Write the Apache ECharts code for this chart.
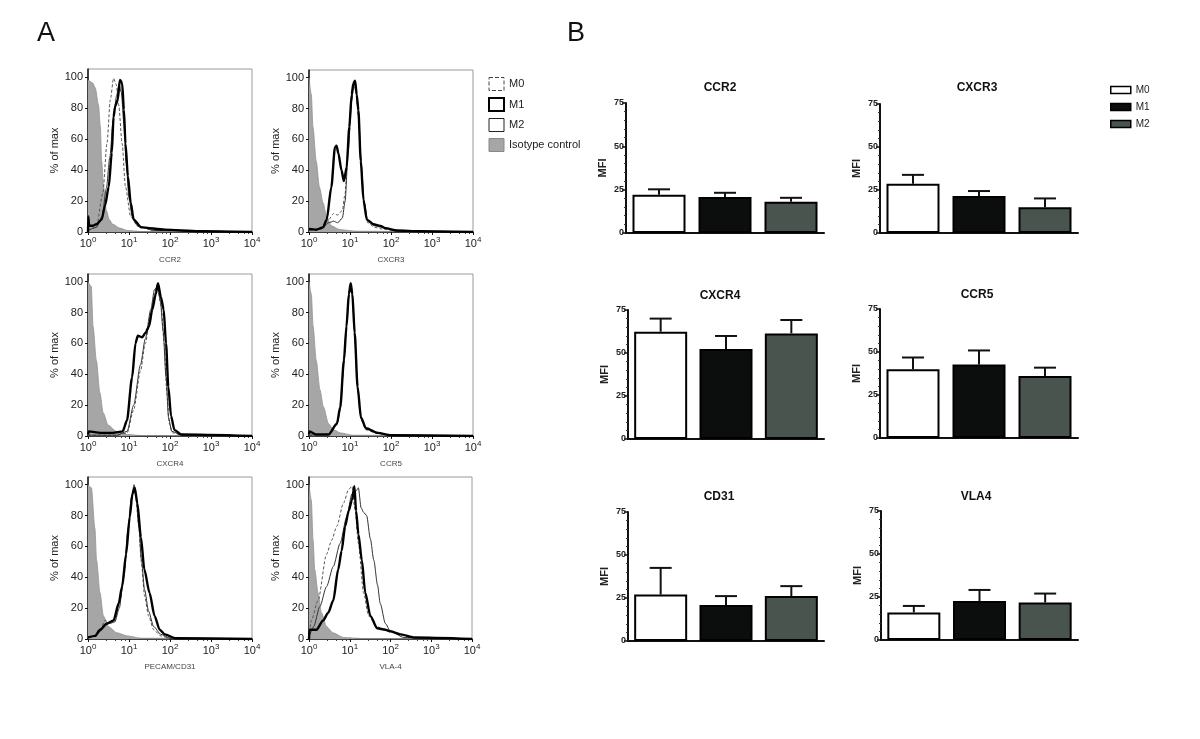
<!DOCTYPE html>
<html><head><meta charset="utf-8">
<script src="https://cdn.jsdelivr.net/npm/echarts@6/dist/echarts.min.js"></script>
<style>html,body{margin:0;padding:0;background:#fff}#c{width:1200px;height:739px}</style>
</head><body><div id="c"></div>
<script>
// ---------- Panel A: flow cytometry histograms ([fluorescence, % of max]) ----------
const histLabels = ['CCR2', 'CXCR3', 'CXCR4', 'CCR5', 'PECAM/CD31', 'VLA-4'];
const histSeriesNames = ['Isotype control', 'M0', 'M2', 'M1'];

const iso_CCR2 = [[1,98],[1.3,96],[1.5,93],[1.8,82],[2,68],[2.15,46],[2.4,29],[2.8,14],[3.3,8],[4,5],[6,2.5],[9,1],[20,0.3],[10000,0]];
const m0_CCR2  = [[1,1],[1.6,3],[2.3,25],[2.9,57],[3.5,85],[4.2,99],[4.9,95],[5.6,82],[6.8,57],[8.2,29],[11,10],[16,4],[40,1],[10000,0]];
const m1_CCR2  = [[1,0],[1.02,10],[1.06,4],[1.3,4],[1.6,5],[2.15,8],[2.6,17],[3.2,29],[3.8,51],[4.2,74],[4.6,81],[5.3,85],[6,98],[6.8,96],[7.5,79],[8.2,57],[9.4,36],[11,19],[13,8],[20,3],[75,1.5],[500,0.5],[10000,0]];
const m2_CCR2  = [[1,1],[1.6,3],[2.2,10],[2.8,28],[3.4,48],[4.2,75],[5,88],[5.7,95],[6.5,90],[7.5,70],[8.5,45],[10,22],[12,10],[16,4],[40,1],[10000,0]];

const iso_CXCR3 = [[1,100],[1.14,89],[1.25,68],[1.5,46],[1.8,29],[2.2,19],[2.7,10],[3.5,4],[5.7,1.5],[15,0.5],[10000,0]];
const m0_CXCR3  = [[1,1],[2,2],[3,8],[4,12],[5,11],[6.5,14],[7.6,25],[9,57],[11,89],[12.5,98],[14,90],[16,75],[18.5,45],[22,18],[27,6],[40,3],[60,2],[150,0.5],[10000,0]];
const m1_CXCR3  = [[1,2],[1.5,1.5],[2.2,3],[2.7,8],[3.5,29],[4.3,55],[4.7,56],[5.2,51],[6.2,40],[7.1,33],[8.3,42],[9.6,68],[11,89],[12,96],[13.3,98],[14.6,89],[16,79],[18.3,46],[21.3,21],[25.7,8],[37.5,5],[55,4],[73,2.5],[140,1],[500,0.5],[10000,0]];
const m2_CXCR3  = [[1,1],[2,2],[3,6],[4,7],[5,6],[6.5,9],[7.6,20],[9,52],[11,85],[12.5,97],[14,92],[16,78],[18.5,48],[22,20],[27,7],[40,4],[60,3],[150,0.5],[10000,0]];

const iso_CXCR4 = [[1,100],[1.2,97],[1.33,71],[1.6,49],[1.95,28],[2.35,15],[3.1,7],[5,3],[9,1],[20,0.3],[10000,0]];
const m0_CXCR4  = [[1,0.5],[5,0.5],[9,2],[13,17],[19,42],[25,60],[34,80],[42,92],[48,98],[61,84],[72,60],[84,28],[96,8],[116,2],[200,0.5],[10000,0]];
const m1_CXCR4  = [[1,1],[1.05,3],[2,2],[4,2],[7,3],[8.9,10],[11.9,38],[14.4,60],[16.4,65],[21,64],[25.4,67],[30.7,71],[37,82],[45,92],[51,99],[60,90],[70,82],[80,60],[91,32],[106,13],[128,4],[187,1],[10000,0]];
const m2_CXCR4  = [[1,0.5],[5,0.5],[9,3],[13,20],[19,46],[25,63],[34,82],[42,95],[50,97],[58,88],[68,68],[80,38],[92,12],[110,3],[200,0.5],[10000,0]];

const iso_CCR5 = [[1,100],[1.14,92],[1.26,71],[1.5,49],[1.85,30],[2.24,19],[3,8],[4,4],[5.8,2],[12,0.5],[10000,0]];
const m0_CCR5  = [[1,0.5],[3,1],[4.8,7],[5.8,17],[7.1,46],[8.2,70],[9.4,90],[10.2,98],[11.4,94],[13,66],[15.3,30],[18.5,11],[24.5,4],[48,1.5],[100,0.5],[10000,0]];
const m1_CCR5  = [[1,1],[1.03,3],[1.5,1],[3,1],[4.8,8],[5.8,19],[7.1,49],[8.2,71],[9.4,92],[10.4,99],[11.4,92],[13,67],[15.3,32],[18.5,12],[24.5,5],[48,2],[100,0.5],[10000,0]];
const m2_CCR5  = [[1,0.5],[3,1],[4.8,8],[5.8,18],[7.1,48],[8.2,72],[9.4,93],[10.6,97],[11.6,90],[13,65],[15.3,31],[18.5,12],[24.5,5],[48,2],[100,0.5],[10000,0]];

const iso_CD31 = [[1,100],[1.21,98],[1.47,72],[1.62,51],[1.96,30],[2.37,15],[3.16,8],[5.1,4],[9,2],[20,0.5],[10000,0]];
const m0_CD31  = [[1,0.5],[1.5,2],[2,6],[2.6,12],[3.3,11],[4.5,12],[5.8,22],[7.5,40],[9.5,68],[11.5,90],[13,97],[14.5,93],[17,75],[20,50],[24,28],[30,15],[40,6],[60,2],[100,0.5],[10000,0]];
const m1_CD31  = [[1,1],[1.5,2],[1.96,6],[2.9,10],[4.2,12],[5.6,23],[6.8,34],[8.5,55],[10.4,79],[12.1,94],[13.8,98],[16,88],[19.5,66],[23.7,45],[31.6,30],[42,15],[56,6],[75,3],[133,0.5],[10000,0]];
const m2_CD31  = [[1,0.5],[1.5,2],[2,5],[2.6,9],[3.3,10],[4.5,11],[5.8,20],[7.5,42],[9.5,72],[11.5,92],[13.3,100],[15,92],[17.5,72],[20,52],[24,32],[30,18],[40,8],[60,3],[100,0.5],[10000,0]];

const iso_VLA4 = [[1,100],[1.14,90],[1.26,64],[1.38,45],[1.67,30],[2.02,17],[2.7,8],[3.9,4],[7,1],[20,0.3],[10000,0]];
const m0_VLA4  = [[1,1],[1.14,12],[1.67,25],[2.7,55],[3.6,64],[4.8,73],[7,88],[9.4,97],[11.3,99],[13.6,83],[16.3,62],[21.8,30],[29,15],[47,8],[68,6],[121,4],[310,1],[10000,0]];
const m1_VLA4  = [[1,0],[1.02,6],[1.52,6],[2.22,12],[2.96,17],[3.94,25],[5.2,45],[6.3,57],[7.7,73],[9.4,83],[11.3,90],[13,99],[14.3,83],[16.3,68],[19.8,51],[24,30],[32,15],[47,7],[75,6],[100,5],[178,3],[380,1],[10000,0]];
const m2_VLA4  = [[1,1],[1.3,8],[1.84,21],[2.7,34],[3.94,47],[5.8,62],[8.4,79],[11.3,94],[14.3,96],[16.3,98],[19,85],[22,82],[26,80],[32,65],[39,51],[48,35],[56,23],[75,10],[100,5],[213,1],[10000,0]];

const histData = [
  [iso_CCR2, m0_CCR2, m2_CCR2, m1_CCR2],
  [iso_CXCR3, m0_CXCR3, m2_CXCR3, m1_CXCR3],
  [iso_CXCR4, m0_CXCR4, m2_CXCR4, m1_CXCR4],
  [iso_CCR5, m0_CCR5, m2_CCR5, m1_CCR5],
  [iso_CD31, m0_CD31, m2_CD31, m1_CD31],
  [iso_VLA4, m0_VLA4, m2_VLA4, m1_VLA4]
];

// ---------- Panel B: MFI bar charts ----------
const barPanels = ['CCR2', 'CXCR3', 'CXCR4', 'CCR5', 'CD31', 'VLA4'];
const groups = ['M0', 'M1', 'M2'];
const mfiM0 = [22, 28.6, 62.4, 40, 27, 16];
const mfiM1 = [20.8, 21.5, 52.3, 42.7, 20.9, 22.7];
const mfiM2 = [18, 14.9, 61.4, 36, 26.1, 21.8];
const errTopM0 = [25.2, 33.8, 70, 46.8, 42.5, 19.8];
const errTopM1 = [23.2, 24.4, 59.9, 50.9, 26.1, 29.1];
const errTopM2 = [20.3, 20.1, 69.2, 40.9, 31.9, 27];
const mfiTicks = [0, 25, 50, 75];

// ---------- layout ----------
const FONT = 'Liberation Sans, Arial, sans-serif';
const histGrids = [
  {left: 88, top: 69, width: 164, height: 163},
  {left: 309, top: 70, width: 164, height: 162},
  {left: 88, top: 274, width: 164, height: 162},
  {left: 309, top: 274, width: 164, height: 162},
  {left: 88, top: 477, width: 164, height: 162},
  {left: 309, top: 477, width: 163, height: 162}
];
const barGrids = [
  {left: 626, top: 103, width: 198, height: 130},
  {left: 880, top: 104, width: 198, height: 129},
  {left: 628, top: 310, width: 196, height: 129},
  {left: 880, top: 309, width: 198, height: 129},
  {left: 628, top: 512, width: 196, height: 129},
  {left: 881, top: 511, width: 197, height: 129}
];
const barTitlePos = [[715, 77], [972, 77], [715, 285], [972, 284], [714, 486], [971, 486]];

const histStyles = [
  {line: {color: '#909090', width: 0.8}, area: {color: '#a6a6a6', opacity: 1}},
  {line: {color: '#555', width: 1, type: [3, 2]}},
  {line: {color: '#333', width: 1}},
  {line: {color: '#000', width: 2.4}}
];
const barColors = ['#ffffff', '#0b0e0c', '#4a544e'];
const means = [mfiM0, mfiM1, mfiM2];
const errs = [errTopM0, errTopM1, errTopM2];

const grids = [], xAxes = [], yAxes = [], series = [], titles = [];

histGrids.forEach((g, i) => {
  grids.push(Object.assign({show: true, borderColor: '#9a9a9a', borderWidth: 1, backgroundColor: 'transparent'}, g));
  xAxes.push({
    type: 'log', logBase: 10, min: 1, max: 10000, gridIndex: i,
    axisLine: {lineStyle: {color: '#111', width: 1.5}},
    axisTick: {length: 3, lineStyle: {color: '#111'}},
    minorTick: {show: true, splitNumber: 5, length: 2, lineStyle: {color: '#444'}},
    splitLine: {show: false}, minorSplitLine: {show: false},
    axisLabel: {
      margin: 4, color: '#222', fontFamily: FONT,
      formatter: v => '{b|10}{s|' + Math.round(Math.log10(v)) + '}',
      rich: {b: {fontSize: 11, lineHeight: 16, fontFamily: FONT, color: '#222'},
             s: {fontSize: 8, lineHeight: 9, verticalAlign: 'top', fontFamily: FONT, color: '#222'}}
    },
    name: histLabels[i], nameLocation: 'middle', nameGap: 24,
    nameTextStyle: {fontSize: 8, color: '#444', fontFamily: FONT}
  });
  yAxes.push({
    type: 'value', min: 0, max: 105, interval: 20, gridIndex: i,
    axisLine: {show: true, lineStyle: {color: '#111', width: 1.5}},
    axisTick: {show: true, length: 3, lineStyle: {color: '#111'}},
    splitLine: {show: false},
    axisLabel: {fontSize: 11, color: '#222', fontFamily: FONT, margin: 5, showMaxLabel: false,
                formatter: v => (v % 20 === 0 ? String(v) : '')},
    name: '% of max', nameLocation: 'middle', nameGap: 25,
    nameTextStyle: {fontSize: 11, color: '#222', fontFamily: FONT}
  });
  histData[i].forEach((d, k) => {
    const st = histStyles[k];
    const s = {
      type: 'line', name: histSeriesNames[k], xAxisIndex: i, yAxisIndex: i,
      data: d, symbol: 'none', showSymbol: false, smooth: 0.25, smoothMonotone: 'x',
      lineStyle: st.line, z: 2 + k, silent: true, animation: false
    };
    if (st.area) s.areaStyle = st.area;
    series.push(s);
  });
});

function renderErr(params, api) {
  const i = api.value(0);
  const base = api.coord([i, api.value(1)]);
  const top = api.coord([i, api.value(2)]);
  const half = 11;
  return {type: 'group', children: [
    {type: 'line', shape: {x1: base[0], y1: base[1], x2: top[0], y2: top[1]}, style: {stroke: '#111', lineWidth: 2}},
    {type: 'line', shape: {x1: top[0] - half, y1: top[1], x2: top[0] + half, y2: top[1]}, style: {stroke: '#111', lineWidth: 2}}
  ]};
}

barGrids.forEach((g, p) => {
  const gi = 6 + p;
  grids.push(Object.assign({show: false}, g));
  xAxes.push({
    type: 'category', data: groups, gridIndex: gi,
    axisLine: {lineStyle: {color: '#111', width: 2}},
    axisTick: {show: false}, axisLabel: {show: false}, splitLine: {show: false}
  });
  yAxes.push({
    type: 'value', min: mfiTicks[0], max: mfiTicks[mfiTicks.length - 1], interval: 25, gridIndex: gi,
    axisLine: {show: true, lineStyle: {color: '#111', width: 2}},
    axisTick: {show: true, length: 4, lineStyle: {color: '#111', width: 1.5}},
    minorTick: {show: true, splitNumber: 5, length: 2, lineStyle: {color: '#333'}},
    splitLine: {show: false},
    axisLabel: {fontSize: 9, fontWeight: 'bold', color: '#222', fontFamily: FONT, margin: 2},
    name: 'MFI', nameLocation: 'middle', nameGap: 18,
    nameTextStyle: {fontSize: 11, fontWeight: 'bold', color: '#222', fontFamily: FONT}
  });
  groups.forEach((gname, j) => {
    series.push({
      type: 'bar', name: gname, xAxisIndex: gi, yAxisIndex: gi,
      data: groups.map((_, jj) => (jj === j ? means[j][p] : '-')),
      barWidth: 53, barGap: '-100%',
      itemStyle: {color: barColors[j], borderColor: '#000', borderWidth: 2},
      silent: true, animation: false, z: 2
    });
  });
  series.push({
    type: 'custom', name: 'error', xAxisIndex: gi, yAxisIndex: gi,
    renderItem: renderErr, encode: {x: 0, y: 1},
    data: groups.map((_, j) => [j, means[j][p], errs[j][p]]),
    silent: true, animation: false, z: 3
  });
  titles.push({
    text: barPanels[p], left: barTitlePos[p][0], top: barTitlePos[p][1], textAlign: 'center',
    textStyle: {fontSize: 12, fontWeight: 'bold', color: '#111', fontFamily: FONT}
  });
});

const option = {
  animation: false,
  backgroundColor: '#fff',
  title: titles,
  grid: grids, xAxis: xAxes, yAxis: yAxes, series: series,
  legend: [
    {
      orient: 'vertical', left: 483, top: 72, itemWidth: 15, itemHeight: 13, itemGap: 6,
      icon: 'rect', selectedMode: false,
      textStyle: {fontSize: 11, color: '#222', fontFamily: FONT},
      data: [
        {name: 'M0', itemStyle: {color: '#fff', borderColor: '#444', borderWidth: 1, borderType: 'dashed'}},
        {name: 'M1', itemStyle: {color: '#fff', borderColor: '#000', borderWidth: 2}},
        {name: 'M2', itemStyle: {color: '#fff', borderColor: '#222', borderWidth: 1}},
        {name: 'Isotype control', itemStyle: {color: '#a6a6a6', borderColor: '#888', borderWidth: 1}}
      ]
    },
    {
      orient: 'vertical', left: 1105, top: 80, itemWidth: 20, itemHeight: 7, itemGap: 7,
      icon: 'rect', selectedMode: false,
      textStyle: {fontSize: 10, color: '#222', fontFamily: FONT},
      data: groups.map((g, j) => ({name: g, itemStyle: {color: barColors[j], borderColor: '#000', borderWidth: 1.5}}))
    }
  ],
  graphic: [
    {type: 'text', left: 37, top: 20, style: {text: 'A', fontSize: 27, fill: '#111', fontFamily: FONT}},
    {type: 'text', left: 567, top: 20, style: {text: 'B', fontSize: 27, fill: '#111', fontFamily: FONT}}
  ]
};

const chart = echarts.init(document.getElementById('c'), null, {renderer: 'canvas'});
chart.setOption(option);
</script>
</body></html>
